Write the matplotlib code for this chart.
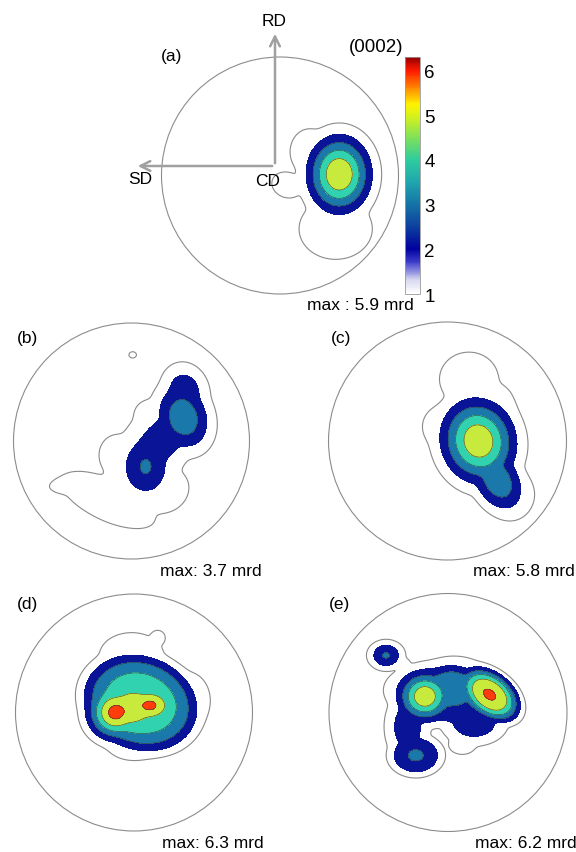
import numpy as np
import matplotlib
matplotlib.use('Agg')
import matplotlib.pyplot as plt
from matplotlib.colors import LinearSegmentedColormap, Normalize
from matplotlib.patches import Circle
from matplotlib.cm import ScalarMappable

plt.rcParams['font.family'] = ['Liberation Sans', 'DejaVu Sans']

W, H = 576, 853

# pole figure components: x, y, sigma_x, sigma_y, angle (deg), peak (mrd), flatness
blobs_a = [
    (0.50, 0.01, 0.19, 0.23, 0, 5.9, 1.0),
    (0.47, -0.45, 0.30, 0.25, 0, 1.7, 1.0),
    (0.06, -0.08, 0.16, 0.13, -20, 1.4, 1.0),
    (0.25, 0.20, 0.17, 0.20, 0, 1.6, 1.0),
]
blobs_b = [
    (0.44, 0.20, 0.17, 0.22, 20, 3.75, 1.0),
    (0.45, 0.42, 0.15, 0.18, 15, 2.7, 1.0),
    (0.12, -0.22, 0.17, 0.21, 0, 3.1, 1.0),
    (0.25, 0.00, 0.28, 0.17, 45, 2.8, 1.0),
    (0.20, -0.05, 0.55, 0.25, 55, 1.7, 1.5),
    (-0.20, -0.50, 0.42, 0.17, -25, 1.7, 1.0),
    (-0.50, -0.37, 0.20, 0.08, 5, 1.6, 1.0),
    (-0.12, -0.12, 0.16, 0.18, 0, 1.6, 1.0),
    (0.28, -0.42, 0.22, 0.19, 30, 1.6, 1.0),
    (0.15, 0.22, 0.13, 0.13, 0, 1.6, 1.0),
    (0.01, 0.73, 0.06, 0.05, 0, 1.15, 1.0),
]
blobs_c = [
    (0.26, 0.00, 0.22, 0.25, 15, 5.8, 1.0),
    (0.42, -0.33, 0.22, 0.15, -60, 3.8, 1.0),
    (0.18, 0.52, 0.24, 0.22, 0, 1.7, 1.0),
    (-0.03, 0.12, 0.20, 0.20, 0, 1.5, 1.0),
    (0.55, -0.45, 0.20, 0.22, 0, 1.5, 1.0),
    (0.43, 0.20, 0.16, 0.28, 0, 1.6, 1.0),
]
blobs_d = [
    (-0.16, 0.00, 0.163, 0.16, 0, 6.3, 1.0),
    (0.14, 0.06, 0.163, 0.12, 0, 6.15, 1.0),
    (-0.01, 0.04, 0.20, 0.20, 0, 5.6, 1.0),
    (0.055, 0.08, 0.36, 0.29, -20, 4.5, 2.1),
    (-0.02, 0.48, 0.28, 0.20, 0, 1.6, 1.0),
    (0.20, 0.63, 0.07, 0.07, 0, 1.5, 1.0),
    (0.00, -0.25, 0.25, 0.16, 0, 1.6, 1.0),
    (0.45, 0.10, 0.20, 0.25, 0, 1.6, 1.0),
]
blobs_e = [
    (-0.195, 0.135, 0.16, 0.15, 0, 5.8, 1.0),
    (0.35, 0.15, 0.20, 0.13, -38, 6.05, 1.5),
    (0.03, 0.15, 0.40, 0.20, -5, 2.9, 2.0),
    (0.03, 0.21, 0.18, 0.15, 0, 3.4, 2.0),
    (-0.27, -0.36, 0.17, 0.13, 0, 3.05, 1.5),
    (-0.34, -0.12, 0.14, 0.22, 0, 2.7, 1.0),
    (0.22, -0.08, 0.20, 0.14, 0, 2.9, 1.0),
    (-0.52, 0.48, 0.11, 0.09, 0, 3.1, 1.0),
    (-0.37, 0.40, 0.08, 0.08, 0, 1.3, 1.0),
    (0.05, 0.33, 0.30, 0.16, 0, 1.5, 1.0),
    (0.12, -0.27, 0.14, 0.10, 0, 1.4, 1.0),
]

panel_labels = ['(a)', '(b)', '(c)', '(d)', '(e)']
max_labels = ['max : 5.9 mrd', 'max: 3.7 mrd', 'max: 5.8 mrd', 'max: 6.3 mrd', 'max: 6.2 mrd']
fill_levels = [2, 3, 4, 5, 6, 8]
fill_colors = ['#0a1496', '#1a78aa', '#30d2b0', '#c8ea3c', '#ff3c0a']
cbar_ticks = [1, 2, 3, 4, 5, 6]
cbar_range = (1, 6.3)

# layout (pixels): circle centre x, y, radius
centres = [(280, 176.5, 118.5), (131.5, 442, 118), (447.5, 442, 119),
           (134, 713.5, 118.5), (448, 713.5, 119)]
label_pos = [(172, 56), (27, 338), (341, 338), (27, 605), (339, 605)]
max_pos = [(360, 305), (211, 572), (524, 572), (213, 844), (526, 844)]

cmap = LinearSegmentedColormap.from_list('pf', [
    (0.0, (1, 1, 1)),
    ((1.3 - 1) / 5.3, (0.85, 0.85, 0.95)),
    ((1.7 - 1) / 5.3, (0.25, 0.25, 0.8)),
    ((2.0 - 1) / 5.3, (0.0, 0.0, 0.62)),
    ((2.5 - 1) / 5.3, (0.05, 0.25, 0.62)),
    ((3.0 - 1) / 5.3, (0.08, 0.45, 0.65)),
    ((3.5 - 1) / 5.3, (0.12, 0.65, 0.68)),
    ((4.0 - 1) / 5.3, (0.18, 0.80, 0.62)),
    ((4.5 - 1) / 5.3, (0.50, 0.88, 0.35)),
    ((5.0 - 1) / 5.3, (0.85, 0.95, 0.10)),
    ((5.25 - 1) / 5.3, (1.0, 0.95, 0.0)),
    ((5.6 - 1) / 5.3, (1.0, 0.55, 0.0)),
    ((6.0 - 1) / 5.3, (1.0, 0.10, 0.0)),
    (1.0, (0.6, 0.0, 0.0)),
])


def density(blobs, X, Y, power=8):
    parts = []
    for cx, cy, sx, sy, ang, amp, p in blobs:
        t = np.radians(ang)
        dx, dy = X - cx, Y - cy
        u = dx * np.cos(t) + dy * np.sin(t)
        v = -dx * np.sin(t) + dy * np.cos(t)
        q = 0.5 * ((u / sx) ** 2 + (v / sy) ** 2)
        parts.append(amp * np.exp(-q ** p))
    return np.sum(np.array(parts) ** power, axis=0) ** (1.0 / power)


fig = plt.figure(figsize=(W / 100, H / 100), dpi=100)

g = np.linspace(-1, 1, 500)
X, Y = np.meshgrid(g, g)
inside = X ** 2 + Y ** 2 <= 1.0

all_blobs = [blobs_a, blobs_b, blobs_c, blobs_d, blobs_e]
for i, blobs in enumerate(all_blobs):
    cx, cy, r = centres[i]
    ax = fig.add_axes([(cx - r) / W, 1 - (cy + r) / H, 2 * r / W, 2 * r / H])
    Z = density(blobs, X, Y)
    Z = np.where(inside, Z, 0.0)
    ax.contourf(X, Y, Z, levels=fill_levels, colors=fill_colors)
    ax.contour(X, Y, Z, levels=fill_levels[1:-1], colors='#3a3a3a', linewidths=0.4)
    ax.contour(X, Y, Z, levels=[1.0], colors='#8a8a8a', linewidths=0.8)
    ax.add_patch(Circle((0, 0), 1.0, fill=False, ec='#8c8c8c', lw=0.8, clip_on=False))
    ax.set_xlim(-1, 1)
    ax.set_ylim(-1, 1)
    ax.set_aspect('auto')
    ax.axis('off')

    if i == 0:
        ox, oy = (275 - cx) / r, (cy - 167) / r
        arrow = dict(arrowstyle='->,head_length=0.7,head_width=0.35', color='#a0a0a0', lw=1.8)
        ax.annotate('', xy=(ox, (cy - 32) / r), xytext=(ox, oy), arrowprops=arrow,
                    annotation_clip=False)
        ax.annotate('', xy=((135 - cx) / r, oy), xytext=(ox, oy), arrowprops=arrow,
                    annotation_clip=False)

    lx, ly = label_pos[i]
    fig.text(lx / W, 1 - ly / H, panel_labels[i], fontsize=12.5, ha='center', va='center')
    mx, my = max_pos[i]
    fig.text(mx / W, 1 - my / H, max_labels[i], fontsize=12.5, ha='center', va='center')

fig.text(274 / W, 1 - 21 / H, 'RD', fontsize=12.5, ha='center', va='center')
fig.text(140 / W, 1 - 180 / H, 'SD', fontsize=12.5, ha='center', va='center')
fig.text(268 / W, 1 - 181 / H, 'CD', fontsize=12.5, ha='center', va='center')
fig.text(376 / W, 1 - 48 / H, '(0002)', fontsize=13.5, ha='center', va='center')

cax = fig.add_axes([405 / W, 1 - 295 / H, 15 / W, 237 / H])
sm = ScalarMappable(norm=Normalize(*cbar_range), cmap=cmap)
cb = fig.colorbar(sm, cax=cax, ticks=cbar_ticks)
cb.outline.set_edgecolor('#9a9a9a')
cb.outline.set_linewidth(0.6)
cax.tick_params(labelsize=13.5, length=0, pad=3)

fig.savefig('out.png', dpi=100)
